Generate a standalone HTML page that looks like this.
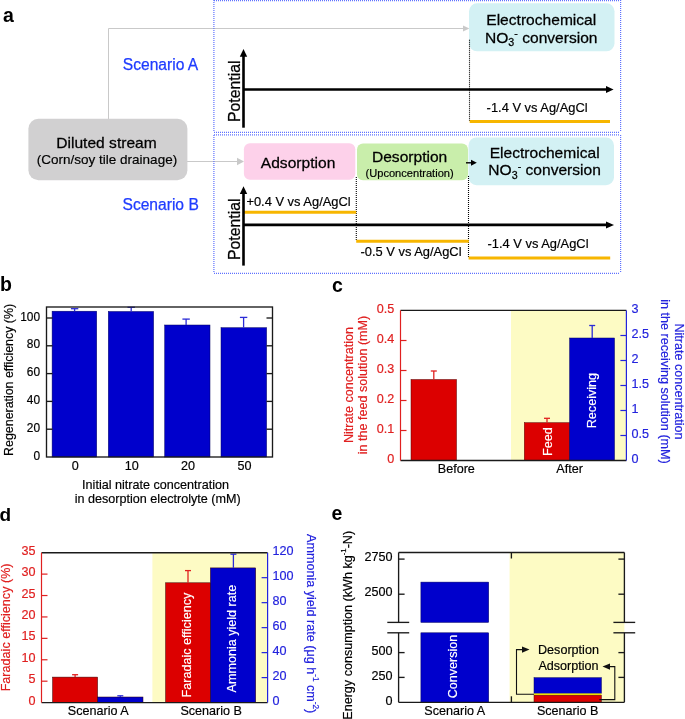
<!DOCTYPE html>
<html><head><meta charset="utf-8">
<style>
html,body{margin:0;padding:0;background:#fff;}
svg{display:block;will-change:transform;font-family:"Liberation Sans",sans-serif;}
</style></head>
<body>
<svg width="685" height="719" viewBox="0 0 685 719">
<rect x="0" y="0" width="685" height="719" fill="#fff"/>
<!-- ================= PANEL A ================= -->
<g id="pa">
<text x="3" y="22" font-size="19.5" font-weight="bold" fill="#000">a</text>
<!-- gray connectors -->
<g stroke="#c9c9c9" stroke-width="1" fill="none">
<polyline points="108.5,119 108.5,28.5 463,28.5"/>
<line x1="187" y1="161.5" x2="238" y2="161.5"/>
</g>
<g fill="#c9c9c9">
<polygon points="463,25.4 469.4,28.5 463,31.6"/>
<polygon points="237,157.8 244,161.5 237,165.2"/>
</g>
<!-- dotted boxes -->
<g stroke="#5f72ff" stroke-width="1.2" fill="none" stroke-dasharray="1 1">
<line x1="214" y1="0.6" x2="620" y2="0.6"/>
<line x1="214" y1="132.4" x2="620" y2="132.4"/>
<line x1="213.9" y1="0" x2="213.9" y2="132"/>
<line x1="620.6" y1="0" x2="620.6" y2="132"/>
<line x1="214" y1="134.8" x2="620" y2="134.8"/>
<line x1="214" y1="273.3" x2="620" y2="273.3"/>
<line x1="213.9" y1="135" x2="213.9" y2="273"/>
<line x1="620.6" y1="135" x2="620.6" y2="273"/>
</g>
<!-- diluted stream -->
<rect x="28.4" y="118.7" width="159" height="61.5" rx="10" fill="#d1d0d1"/>
<text transform="translate(106.5,147.6) scale(1.068,1)" font-size="14.6" text-anchor="middle" fill="#000" stroke="#000" stroke-width="0.25">Diluted stream</text>
<text x="107" y="163.6" font-size="13.5" text-anchor="middle" fill="#000" stroke="#000" stroke-width="0.18">(Corn/soy tile drainage)</text>
<text x="122.8" y="69.6" font-size="15.6" fill="#1f3cff" stroke="#1f3cff" stroke-width="0.25">Scenario A</text>
<text x="122.5" y="210.4" font-size="15.6" fill="#1f3cff" stroke="#1f3cff" stroke-width="0.25">Scenario B</text>

<!-- box 1 -->
<rect x="469" y="3.3" width="145.5" height="48" rx="8" fill="#d3f1f4"/>
<text transform="translate(541.25,24.9) scale(1.068,1)" font-size="14.6" text-anchor="middle" stroke="#000" stroke-width="0.25">Electrochemical</text>
<text transform="translate(541.25,42.7) scale(1.068,1)" font-size="14.6" text-anchor="middle" stroke="#000" stroke-width="0.25">NO<tspan font-size="10" dy="3.3">3</tspan><tspan font-size="10" dy="-8.6">-</tspan><tspan dy="5.3"> conversion</tspan></text>
<line x1="469.5" y1="39.8" x2="469.5" y2="121" stroke="#000" stroke-width="1.1" stroke-dasharray="1 1"/>
<line x1="469.7" y1="121.6" x2="610" y2="121.6" stroke="#f7b600" stroke-width="3"/>
<text x="486.6" y="112.2" font-size="12.9" stroke="#000" stroke-width="0.18">-1.4 V vs Ag/AgCl</text>
<!-- axes 1 -->
<g stroke="#000" stroke-width="2.6">
<line x1="243.5" y1="127.7" x2="243.5" y2="56"/>
<line x1="243.5" y1="89.5" x2="607" y2="89.5"/>
</g>
<polygon points="239.8,56.8 243.5,49 247.2,56.8" fill="#000"/>
<polygon points="606,86 613.6,89.5 606,93" fill="#000"/>
<text transform="translate(240.3,122) rotate(-90)" font-size="15.8" stroke="#000" stroke-width="0.25">Potential</text>

<!-- box 2 -->
<rect x="243.9" y="143.2" width="111.4" height="36.5" rx="6" fill="#fdd1ea"/>
<text transform="translate(298.05,167.7) scale(1.068,1)" font-size="14.6" text-anchor="middle" stroke="#000" stroke-width="0.25">Adsorption</text>
<rect x="357" y="143.5" width="111" height="36.7" rx="6" fill="#c9eeab"/>
<text transform="translate(409.6,162.2) scale(1.068,1)" font-size="14.6" text-anchor="middle" stroke="#000" stroke-width="0.25">Desorption</text>
<text x="409.6" y="176.8" font-size="11.1" text-anchor="middle" stroke="#000" stroke-width="0.18">(Upconcentration)</text>
<rect x="468.5" y="137.5" width="145.5" height="47.7" rx="8" fill="#d3f1f4"/>
<text transform="translate(544.65,157.7) scale(1.068,1)" font-size="14.6" text-anchor="middle" stroke="#000" stroke-width="0.25">Electrochemical</text>
<text transform="translate(544.6,175.4) scale(1.068,1)" font-size="14.6" text-anchor="middle" stroke="#000" stroke-width="0.25">NO<tspan font-size="10" dy="3.3">3</tspan><tspan font-size="10" dy="-8.6">-</tspan><tspan dy="5.3"> conversion</tspan></text>
<line x1="466" y1="162.8" x2="472" y2="162.8" stroke="#000" stroke-width="1.4"/>
<polygon points="471,159.8 476.8,162.8 471,165.8" fill="#000"/>
<g stroke="#000" stroke-width="1.1" stroke-dasharray="1 1">
<line x1="356.3" y1="177" x2="356.3" y2="240"/>
<line x1="468.5" y1="176" x2="468.5" y2="257"/>
</g>
<g stroke="#f7b600" stroke-width="3">
<line x1="243.5" y1="212.3" x2="356.2" y2="212.3"/>
<line x1="356.2" y1="241.3" x2="468.8" y2="241.3"/>
<line x1="468.6" y1="258" x2="610.2" y2="258"/>
</g>
<g stroke="#000" stroke-width="2.6">
<line x1="243.5" y1="265.6" x2="243.5" y2="193"/>
<line x1="243.5" y1="224.9" x2="607" y2="224.9"/>
</g>
<polygon points="239.8,194 243.5,186.2 247.2,194" fill="#000"/>
<polygon points="606,221.4 614,224.9 606,228.4" fill="#000"/>
<text transform="translate(240.1,260) rotate(-90)" font-size="15.8" stroke="#000" stroke-width="0.25">Potential</text>
<text x="246.4" y="206" font-size="12.9" stroke="#000" stroke-width="0.18">+0.4 V vs Ag/AgCl</text>
<text x="360.5" y="255.6" font-size="12.9" stroke="#000" stroke-width="0.18">-0.5 V vs Ag/AgCl</text>
<text x="487.5" y="247.7" font-size="12.9" stroke="#000" stroke-width="0.18">-1.4 V vs Ag/AgCl</text>
</g>
<!--CHARTS_START-->
<g id="pb">
<text x="0" y="290.6" font-size="19.5" font-weight="bold">b</text>
<rect x="52.1" y="311.2" width="44.6" height="145.8" fill="#0000cc" stroke="#000060" stroke-width="0.5"/>
<line x1="74.6" y1="311.2" x2="74.6" y2="308.7" stroke="#2b2bd6" stroke-width="1.3"/>
<line x1="70.9" y1="308.7" x2="78.3" y2="308.7" stroke="#2b2bd6" stroke-width="1.3"/>
<rect x="108.3" y="311.5" width="45.3" height="145.5" fill="#0000cc" stroke="#000060" stroke-width="0.5"/>
<line x1="131.2" y1="311.5" x2="131.2" y2="307.3" stroke="#2b2bd6" stroke-width="1.3"/>
<line x1="127.5" y1="307.3" x2="134.9" y2="307.3" stroke="#2b2bd6" stroke-width="1.3"/>
<rect x="164.7" y="325" width="45.3" height="132" fill="#0000cc" stroke="#000060" stroke-width="0.5"/>
<line x1="186.1" y1="325" x2="186.1" y2="319.1" stroke="#2b2bd6" stroke-width="1.3"/>
<line x1="182.4" y1="319.1" x2="189.8" y2="319.1" stroke="#2b2bd6" stroke-width="1.3"/>
<rect x="221" y="327.7" width="45.6" height="129.3" fill="#0000cc" stroke="#000060" stroke-width="0.5"/>
<line x1="243.6" y1="327.7" x2="243.6" y2="317.4" stroke="#2b2bd6" stroke-width="1.3"/>
<line x1="239.9" y1="317.4" x2="247.3" y2="317.4" stroke="#2b2bd6" stroke-width="1.3"/>
<rect x="46.5" y="307" width="226.0" height="150" fill="none" stroke="#1a1a1a" stroke-width="1.35"/>
<text x="40" y="459.5" font-size="11.9" text-anchor="end" stroke="#000" stroke-width="0.18">0</text>
<line x1="46.5" y1="429.2" x2="52.5" y2="429.2" stroke="#1a1a1a" stroke-width="1.35"/>
<line x1="266.5" y1="429.2" x2="272.5" y2="429.2" stroke="#1a1a1a" stroke-width="1.35"/>
<text x="40" y="431.7" font-size="11.9" text-anchor="end" stroke="#000" stroke-width="0.18">20</text>
<line x1="46.5" y1="401.4" x2="52.5" y2="401.4" stroke="#1a1a1a" stroke-width="1.35"/>
<line x1="266.5" y1="401.4" x2="272.5" y2="401.4" stroke="#1a1a1a" stroke-width="1.35"/>
<text x="40" y="403.9" font-size="11.9" text-anchor="end" stroke="#000" stroke-width="0.18">40</text>
<line x1="46.5" y1="373.6" x2="52.5" y2="373.6" stroke="#1a1a1a" stroke-width="1.35"/>
<line x1="266.5" y1="373.6" x2="272.5" y2="373.6" stroke="#1a1a1a" stroke-width="1.35"/>
<text x="40" y="376.1" font-size="11.9" text-anchor="end" stroke="#000" stroke-width="0.18">60</text>
<line x1="46.5" y1="345.8" x2="52.5" y2="345.8" stroke="#1a1a1a" stroke-width="1.35"/>
<line x1="266.5" y1="345.8" x2="272.5" y2="345.8" stroke="#1a1a1a" stroke-width="1.35"/>
<text x="40" y="348.3" font-size="11.9" text-anchor="end" stroke="#000" stroke-width="0.18">80</text>
<line x1="46.5" y1="318" x2="52.5" y2="318" stroke="#1a1a1a" stroke-width="1.35"/>
<line x1="266.5" y1="318" x2="272.5" y2="318" stroke="#1a1a1a" stroke-width="1.35"/>
<text x="40" y="320.5" font-size="11.9" text-anchor="end" stroke="#000" stroke-width="0.18">100</text>
<text x="75.25" y="470" font-size="12.6" text-anchor="middle" stroke="#000" stroke-width="0.18">0</text>
<text x="131.75" y="470" font-size="12.6" text-anchor="middle" stroke="#000" stroke-width="0.18">10</text>
<text x="188" y="470" font-size="12.6" text-anchor="middle" stroke="#000" stroke-width="0.18">20</text>
<text x="244.4" y="470" font-size="12.6" text-anchor="middle" stroke="#000" stroke-width="0.18">50</text>
<text x="155.6" y="489.3" font-size="12.6" text-anchor="middle" stroke="#000" stroke-width="0.18">Initial nitrate concentration</text>
<text x="157.7" y="502.6" font-size="12.6" text-anchor="middle" stroke="#000" stroke-width="0.18">in desorption electrolyte (mM)</text>
<text transform="translate(12.9,379.9) rotate(-90)" font-size="12.4" text-anchor="middle" stroke="#000" stroke-width="0.18">Regeneration efficiency (%)</text>
</g>
<g id="pc">
<text x="332" y="291.8" font-size="19.5" font-weight="bold">c</text>
<rect x="511" y="310.4" width="115.39999999999998" height="150.10000000000002" fill="#fdfbc4"/>
<rect x="411" y="379.5" width="45.5" height="81" fill="#dc0000" stroke="#500" stroke-width="0.5"/>
<rect x="524.3" y="422.7" width="45.3" height="37.8" fill="#dc0000" stroke="#500" stroke-width="0.5"/>
<rect x="569.6" y="338" width="44.9" height="122.5" fill="#0000cc" stroke="#000060" stroke-width="0.5"/>
<line x1="433.8" y1="379.5" x2="433.8" y2="371" stroke="#e02020" stroke-width="1.3"/>
<line x1="430.8" y1="371" x2="436.8" y2="371" stroke="#e02020" stroke-width="1.3"/>
<line x1="547" y1="422.7" x2="547" y2="418.3" stroke="#e02020" stroke-width="1.3"/>
<line x1="544" y1="418.3" x2="550" y2="418.3" stroke="#e02020" stroke-width="1.3"/>
<line x1="592.2" y1="338" x2="592.2" y2="325.5" stroke="#2b2bd6" stroke-width="1.3"/>
<line x1="589.2" y1="325.5" x2="595.2" y2="325.5" stroke="#2b2bd6" stroke-width="1.3"/>
<text transform="translate(551.6,456) rotate(-90)" font-size="12.6" fill="#fff" stroke="#fff" stroke-width="0.18">Feed</text>
<text transform="translate(596.3,400.6) rotate(-90)" font-size="12.6" fill="#fff" text-anchor="middle" stroke="#fff" stroke-width="0.18">Receiving</text>
<line x1="400.5" y1="310.4" x2="626.4" y2="310.4" stroke="#1a1a1a" stroke-width="1.35"/>
<line x1="400.5" y1="460.5" x2="626.4" y2="460.5" stroke="#1a1a1a" stroke-width="1.35"/>
<line x1="400.5" y1="310.4" x2="400.5" y2="460.5" stroke="#e02020" stroke-width="1.2"/>
<line x1="626.4" y1="310.4" x2="626.4" y2="460.5" stroke="#2323dd" stroke-width="1.2"/>
<text x="394.3" y="462.9" font-size="12.6" text-anchor="end" fill="#e02020" stroke="#e02020" stroke-width="0.18">0</text>
<line x1="400.5" y1="430.5" x2="406.5" y2="430.5" stroke="#e02020" stroke-width="1.2"/>
<text x="394.3" y="432.9" font-size="12.6" text-anchor="end" fill="#e02020" stroke="#e02020" stroke-width="0.18">0.1</text>
<line x1="400.5" y1="400.5" x2="406.5" y2="400.5" stroke="#e02020" stroke-width="1.2"/>
<text x="394.3" y="402.9" font-size="12.6" text-anchor="end" fill="#e02020" stroke="#e02020" stroke-width="0.18">0.2</text>
<line x1="400.5" y1="370.5" x2="406.5" y2="370.5" stroke="#e02020" stroke-width="1.2"/>
<text x="394.3" y="372.9" font-size="12.6" text-anchor="end" fill="#e02020" stroke="#e02020" stroke-width="0.18">0.3</text>
<line x1="400.5" y1="340.5" x2="406.5" y2="340.5" stroke="#e02020" stroke-width="1.2"/>
<text x="394.3" y="342.9" font-size="12.6" text-anchor="end" fill="#e02020" stroke="#e02020" stroke-width="0.18">0.4</text>
<text x="394.3" y="312.9" font-size="12.6" text-anchor="end" fill="#e02020" stroke="#e02020" stroke-width="0.18">0.5</text>
<text x="631.5" y="462.9" font-size="12.6" fill="#2323dd" stroke="#2323dd" stroke-width="0.18">0</text>
<line x1="620.4" y1="435.5" x2="626.4" y2="435.5" stroke="#2323dd" stroke-width="1.2"/>
<text x="631.5" y="437.9" font-size="12.6" fill="#2323dd" stroke="#2323dd" stroke-width="0.18">0.5</text>
<line x1="620.4" y1="410.5" x2="626.4" y2="410.5" stroke="#2323dd" stroke-width="1.2"/>
<text x="631.5" y="412.9" font-size="12.6" fill="#2323dd" stroke="#2323dd" stroke-width="0.18">1</text>
<line x1="620.4" y1="385.5" x2="626.4" y2="385.5" stroke="#2323dd" stroke-width="1.2"/>
<text x="631.5" y="387.9" font-size="12.6" fill="#2323dd" stroke="#2323dd" stroke-width="0.18">1.5</text>
<line x1="620.4" y1="360.5" x2="626.4" y2="360.5" stroke="#2323dd" stroke-width="1.2"/>
<text x="631.5" y="362.9" font-size="12.6" fill="#2323dd" stroke="#2323dd" stroke-width="0.18">2</text>
<line x1="620.4" y1="335.5" x2="626.4" y2="335.5" stroke="#2323dd" stroke-width="1.2"/>
<text x="631.5" y="337.9" font-size="12.6" fill="#2323dd" stroke="#2323dd" stroke-width="0.18">2.5</text>
<text x="631.5" y="312.9" font-size="12.6" fill="#2323dd" stroke="#2323dd" stroke-width="0.18">3</text>
<text x="456.3" y="472.8" font-size="12.6" text-anchor="middle" stroke="#000" stroke-width="0.18">Before</text>
<text x="569.6" y="472.8" font-size="12.6" text-anchor="middle" stroke="#000" stroke-width="0.18">After</text>
<text transform="translate(353,385) rotate(-90)" font-size="12.6" text-anchor="middle" fill="#e02020" stroke="#e02020" stroke-width="0.18">Nitrate concentration</text>
<text transform="translate(367,385) rotate(-90)" font-size="12.6" text-anchor="middle" fill="#e02020" stroke="#e02020" stroke-width="0.18">in the feed solution (mM)</text>
<text transform="translate(675.2,381.5) rotate(90)" font-size="12.6" text-anchor="middle" fill="#2323dd" stroke="#2323dd" stroke-width="0.18">Nitrate concentration</text>
<text transform="translate(661,381.5) rotate(90)" font-size="12.6" text-anchor="middle" fill="#2323dd" stroke="#2323dd" stroke-width="0.18">in the receiving solution (mM)</text>
</g>
<g id="pd">
<text x="-0.5" y="520.9" font-size="19" font-weight="bold">d</text>
<rect x="152.4" y="552.7" width="115.20000000000002" height="149.89999999999998" fill="#fdfbc4"/>
<rect x="52.6" y="677.1" width="45" height="25.5" fill="#dc0000" stroke="#300" stroke-width="0.5"/>
<rect x="97.6" y="697" width="45.4" height="5.6" fill="#0000cc" stroke="#300" stroke-width="0.5"/>
<rect x="165.6" y="582.8" width="44.8" height="119.8" fill="#dc0000" stroke="#300" stroke-width="0.5"/>
<rect x="210.4" y="567.9" width="45.3" height="134.7" fill="#0000cc" stroke="#300" stroke-width="0.5"/>
<line x1="75.1" y1="677.1" x2="75.1" y2="674.7" stroke="#e02020" stroke-width="1.3"/>
<line x1="72.1" y1="674.7" x2="78.1" y2="674.7" stroke="#e02020" stroke-width="1.3"/>
<line x1="120.3" y1="697" x2="120.3" y2="695.8" stroke="#2b2bd6" stroke-width="1.3"/>
<line x1="117.3" y1="695.8" x2="123.3" y2="695.8" stroke="#2b2bd6" stroke-width="1.3"/>
<line x1="188" y1="582.8" x2="188" y2="570.6" stroke="#e02020" stroke-width="1.3"/>
<line x1="185" y1="570.6" x2="191" y2="570.6" stroke="#e02020" stroke-width="1.3"/>
<line x1="233.4" y1="567.9" x2="233.4" y2="554.2" stroke="#2b2bd6" stroke-width="1.3"/>
<line x1="230.4" y1="554.2" x2="236.4" y2="554.2" stroke="#2b2bd6" stroke-width="1.3"/>
<text transform="translate(191.2,645.1) rotate(-90)" font-size="12.6" fill="#fff" text-anchor="middle" stroke="#fff" stroke-width="0.18">Faradaic efficiency</text>
<text transform="translate(236.1,638.6) rotate(-90)" font-size="12.6" fill="#fff" text-anchor="middle" stroke="#fff" stroke-width="0.18">Ammonia yield rate</text>
<line x1="41.5" y1="552.7" x2="267.6" y2="552.7" stroke="#1a1a1a" stroke-width="1.35"/>
<line x1="41.5" y1="702.6" x2="267.6" y2="702.6" stroke="#1a1a1a" stroke-width="1.35"/>
<line x1="41.5" y1="552.7" x2="41.5" y2="702.6" stroke="#e02020" stroke-width="1.2"/>
<line x1="267.6" y1="552.7" x2="267.6" y2="702.6" stroke="#2323dd" stroke-width="1.2"/>
<text x="35.4" y="704.6" font-size="12.6" text-anchor="end" fill="#e02020" stroke="#e02020" stroke-width="0.18">0</text>
<line x1="41.5" y1="681.19" x2="47.5" y2="681.19" stroke="#e02020" stroke-width="1.2"/>
<text x="35.4" y="683.19" font-size="12.6" text-anchor="end" fill="#e02020" stroke="#e02020" stroke-width="0.18">5</text>
<line x1="41.5" y1="659.77" x2="47.5" y2="659.77" stroke="#e02020" stroke-width="1.2"/>
<text x="35.4" y="661.77" font-size="12.6" text-anchor="end" fill="#e02020" stroke="#e02020" stroke-width="0.18">10</text>
<line x1="41.5" y1="638.36" x2="47.5" y2="638.36" stroke="#e02020" stroke-width="1.2"/>
<text x="35.4" y="640.36" font-size="12.6" text-anchor="end" fill="#e02020" stroke="#e02020" stroke-width="0.18">15</text>
<line x1="41.5" y1="616.94" x2="47.5" y2="616.94" stroke="#e02020" stroke-width="1.2"/>
<text x="35.4" y="618.94" font-size="12.6" text-anchor="end" fill="#e02020" stroke="#e02020" stroke-width="0.18">20</text>
<line x1="41.5" y1="595.53" x2="47.5" y2="595.53" stroke="#e02020" stroke-width="1.2"/>
<text x="35.4" y="597.53" font-size="12.6" text-anchor="end" fill="#e02020" stroke="#e02020" stroke-width="0.18">25</text>
<line x1="41.5" y1="574.11" x2="47.5" y2="574.11" stroke="#e02020" stroke-width="1.2"/>
<text x="35.4" y="576.11" font-size="12.6" text-anchor="end" fill="#e02020" stroke="#e02020" stroke-width="0.18">30</text>
<text x="35.4" y="554.7" font-size="12.6" text-anchor="end" fill="#e02020" stroke="#e02020" stroke-width="0.18">35</text>
<text x="272.5" y="705" font-size="12.6" fill="#2323dd" stroke="#2323dd" stroke-width="0.18">0</text>
<line x1="261.6" y1="677.62" x2="267.6" y2="677.62" stroke="#2323dd" stroke-width="1.2"/>
<text x="272.5" y="680.02" font-size="12.6" fill="#2323dd" stroke="#2323dd" stroke-width="0.18">20</text>
<line x1="261.6" y1="652.63" x2="267.6" y2="652.63" stroke="#2323dd" stroke-width="1.2"/>
<text x="272.5" y="655.03" font-size="12.6" fill="#2323dd" stroke="#2323dd" stroke-width="0.18">40</text>
<line x1="261.6" y1="627.65" x2="267.6" y2="627.65" stroke="#2323dd" stroke-width="1.2"/>
<text x="272.5" y="630.05" font-size="12.6" fill="#2323dd" stroke="#2323dd" stroke-width="0.18">60</text>
<line x1="261.6" y1="602.67" x2="267.6" y2="602.67" stroke="#2323dd" stroke-width="1.2"/>
<text x="272.5" y="605.07" font-size="12.6" fill="#2323dd" stroke="#2323dd" stroke-width="0.18">80</text>
<line x1="261.6" y1="577.68" x2="267.6" y2="577.68" stroke="#2323dd" stroke-width="1.2"/>
<text x="272.5" y="580.08" font-size="12.6" fill="#2323dd" stroke="#2323dd" stroke-width="0.18">100</text>
<text x="272.5" y="555.1" font-size="12.6" fill="#2323dd" stroke="#2323dd" stroke-width="0.18">120</text>
<text x="98.2" y="715" font-size="12.6" text-anchor="middle" stroke="#000" stroke-width="0.18">Scenario A</text>
<text x="211.2" y="715" font-size="12.6" text-anchor="middle" stroke="#000" stroke-width="0.18">Scenario B</text>
<text transform="translate(10.4,627.4) rotate(-90)" font-size="12.6" text-anchor="middle" fill="#e02020" stroke="#e02020" stroke-width="0.18">Faradaic efficiency (%)</text>
<text transform="translate(306.5,534) rotate(90)" font-size="12.6" fill="#2323dd" stroke="#2323dd" stroke-width="0.18">Ammonia yield rate (μg h<tspan font-size="8.2" dy="-6">-1</tspan><tspan dy="6"> cm</tspan><tspan font-size="8.2" dy="-6">-2</tspan><tspan dy="6">)</tspan></text>
</g>
<g id="pe">
<text x="331.5" y="520.2" font-size="19.5" font-weight="bold">e</text>
<rect x="509.6" y="552.5" width="114.79999999999995" height="149.79999999999995" fill="#fdfbc4"/>
<rect x="420.9" y="582.1" width="67.8" height="40.3" fill="#0000cc" stroke="#000060" stroke-width="0.5"/>
<rect x="420.9" y="632.8" width="67.8" height="69.5" fill="#0000cc" stroke="#000060" stroke-width="0.5"/>
<text transform="translate(457.3,666.5) rotate(-90)" font-size="12.6" fill="#fff" text-anchor="middle" stroke="#fff" stroke-width="0.18">Conversion</text>
<rect x="534" y="677.7" width="67.4" height="15.9" fill="#0000cc" stroke="#000060" stroke-width="0.5"/>
<rect x="534" y="693.5" width="67.4" height="1.9" fill="#f6ec00"/>
<rect x="534" y="695.2" width="67.4" height="7.1" fill="#dc0000" stroke="#500" stroke-width="0.5"/>
<line x1="398.6" y1="552.5" x2="624.4" y2="552.5" stroke="#1a1a1a" stroke-width="1.35"/>
<line x1="398.6" y1="702.3" x2="624.4" y2="702.3" stroke="#1a1a1a" stroke-width="1.35"/>
<line x1="398.6" y1="552.5" x2="398.6" y2="622.4" stroke="#1a1a1a" stroke-width="1.35"/>
<line x1="398.6" y1="632.8" x2="398.6" y2="702.3" stroke="#1a1a1a" stroke-width="1.35"/>
<line x1="624.4" y1="552.5" x2="624.4" y2="622.4" stroke="#1a1a1a" stroke-width="1.35"/>
<line x1="624.4" y1="632.8" x2="624.4" y2="702.3" stroke="#1a1a1a" stroke-width="1.35"/>
<line x1="387.3" y1="622.4" x2="409.2" y2="622.4" stroke="#1a1a1a" stroke-width="1.35"/>
<line x1="613.4" y1="622.4" x2="635.2" y2="622.4" stroke="#1a1a1a" stroke-width="1.35"/>
<line x1="387.3" y1="632.8" x2="409.2" y2="632.8" stroke="#1a1a1a" stroke-width="1.35"/>
<line x1="613.4" y1="632.8" x2="635.2" y2="632.8" stroke="#1a1a1a" stroke-width="1.35"/>
<line x1="511.4" y1="552.5" x2="511.4" y2="558.5" stroke="#1a1a1a" stroke-width="1.35"/>
<line x1="511.4" y1="696.3" x2="511.4" y2="702.3" stroke="#1a1a1a" stroke-width="1.35"/>
<line x1="398.6" y1="559.1" x2="404.6" y2="559.1" stroke="#1a1a1a" stroke-width="1.35"/>
<line x1="618.4" y1="559.1" x2="624.4" y2="559.1" stroke="#1a1a1a" stroke-width="1.35"/>
<text x="392.6" y="560.7" font-size="12.6" text-anchor="end" stroke="#000" stroke-width="0.18">2750</text>
<line x1="398.6" y1="594.2" x2="404.6" y2="594.2" stroke="#1a1a1a" stroke-width="1.35"/>
<line x1="618.4" y1="594.2" x2="624.4" y2="594.2" stroke="#1a1a1a" stroke-width="1.35"/>
<text x="392.6" y="595.8" font-size="12.6" text-anchor="end" stroke="#000" stroke-width="0.18">2500</text>
<line x1="398.6" y1="652.6" x2="404.6" y2="652.6" stroke="#1a1a1a" stroke-width="1.35"/>
<line x1="618.4" y1="652.6" x2="624.4" y2="652.6" stroke="#1a1a1a" stroke-width="1.35"/>
<text x="392.6" y="655.2" font-size="12.6" text-anchor="end" stroke="#000" stroke-width="0.18">500</text>
<line x1="398.6" y1="677.4" x2="404.6" y2="677.4" stroke="#1a1a1a" stroke-width="1.35"/>
<line x1="618.4" y1="677.4" x2="624.4" y2="677.4" stroke="#1a1a1a" stroke-width="1.35"/>
<text x="392.6" y="680" font-size="12.6" text-anchor="end" stroke="#000" stroke-width="0.18">250</text>
<text x="392.6" y="704.9" font-size="12.6" text-anchor="end" stroke="#000" stroke-width="0.18">0</text>
<text x="454.8" y="714.6" font-size="12.6" text-anchor="middle" stroke="#000" stroke-width="0.18">Scenario A</text>
<text x="567.7" y="714.6" font-size="12.6" text-anchor="middle" stroke="#000" stroke-width="0.18">Scenario B</text>
<text x="538" y="654" font-size="12.6" stroke="#000" stroke-width="0.18">Desorption</text>
<text x="538.4" y="670" font-size="12.6" stroke="#000" stroke-width="0.18">Adsorption</text>
<polyline points="534,694.3 516.5,694.3 516.5,649.6 523,649.6" fill="none" stroke="#111" stroke-width="1.1"/>
<polygon points="522,646.4 529.5,649.6 522,652.8" fill="#111"/>
<polyline points="599.3,699.6 614.8,699.6 614.8,666.6 609,666.6" fill="none" stroke="#111" stroke-width="1.1"/>
<polygon points="610,663.4 602.5,666.6 610,669.8" fill="#111"/>
<text transform="translate(352.2,625.3) rotate(-90)" font-size="12.6" text-anchor="middle" stroke="#000" stroke-width="0.18">Energy consumption (kWh kg<tspan font-size="7.8" dy="-6.2">-1</tspan><tspan dy="6.2">-N)</tspan></text>
</g>
<!--CHARTS_END-->
</svg>
</body></html>
